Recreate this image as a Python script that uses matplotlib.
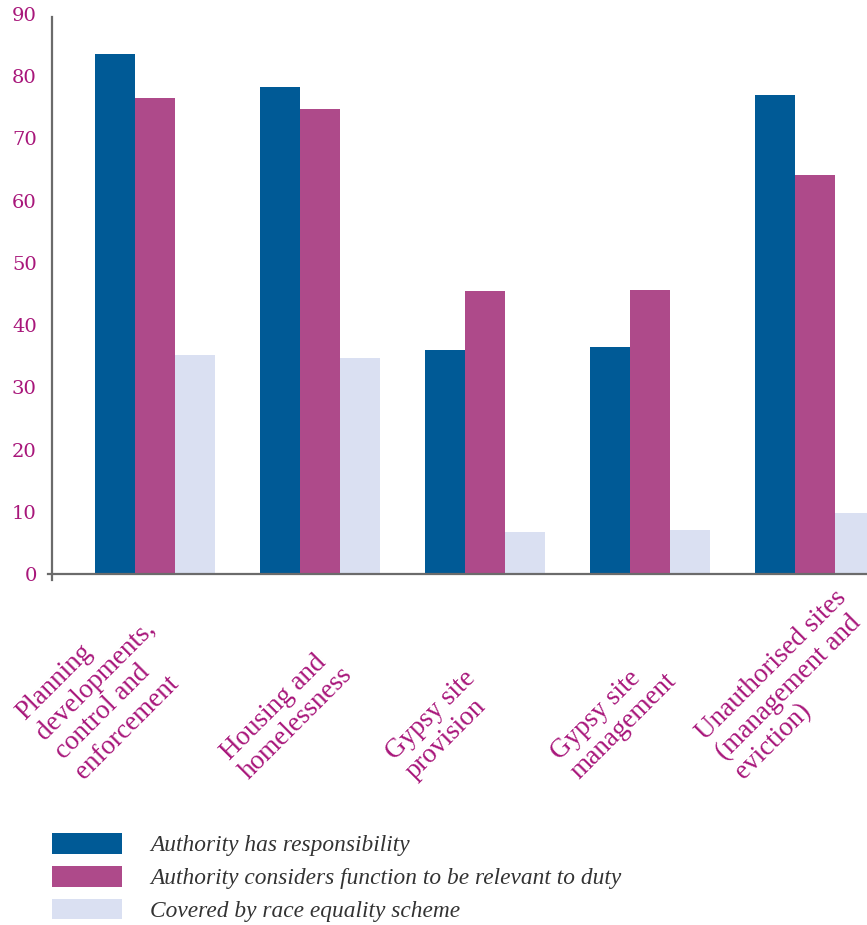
import matplotlib
matplotlib.use('Agg')
import matplotlib.pyplot as plt
import matplotlib.transforms as mtransforms
import numpy as np

# Functions and the share of authorities (%) in each category
categories = [
    'Planning\ndevelopments,\ncontrol and\nenforcement',
    'Housing and\nhomelessness',
    'Gypsy site\nprovision',
    'Gypsy site\nmanagement',
    'Unauthorised sites\n(management and\neviction)',
]
has_responsibility = [83.6, 78.3, 36.0, 36.5, 77.0]
considers_relevant = [76.5, 74.8, 45.5, 45.7, 64.1]
race_equality_scheme = [35.2, 34.7, 6.8, 7.1, 9.8]

series_labels = [
    'Authority has responsibility',
    'Authority considers function to be relevant to duty',
    'Covered by race equality scheme',
]
y_ticks = list(range(0, 91, 10))

BLUE = '#005a96'
MAGENTA = '#ae4a8a'
PALE = '#dae0f2'
TEXT = '#a8167a'
AXIS = '#6b6b6b'

fig = plt.figure(figsize=(8.67, 9.25), dpi=100)
ax = fig.add_axes([52 / 867, 351 / 925, 815 / 867, 560 / 925])

x = np.arange(len(categories))
w = 40 / 165

bars = []
for k, (vals, col) in enumerate([(has_responsibility, BLUE),
                                  (considers_relevant, MAGENTA),
                                  (race_equality_scheme, PALE)]):
    b = ax.bar(x + (k - 1) * w, vals, w, color=col, linewidth=0, zorder=2)
    bars.append(b)

ax.set_xlim((52 - 155) / 165, (867 - 155) / 165)
ax.set_ylim(0, 90)

for side in ('top', 'right'):
    ax.spines[side].set_visible(False)
for side in ('left', 'bottom'):
    ax.spines[side].set_color(AXIS)
    ax.spines[side].set_linewidth(1.6)
ax.spines['bottom'].set_bounds((48 - 155) / 165, (867 - 155) / 165)
ax.spines['left'].set_bounds(-0.9, 89.5)

ax.set_xticks([])
ax.set_yticks(y_ticks)
ax.set_yticklabels([str(t) for t in y_ticks], family='DejaVu Serif',
                   fontsize=14, color=TEXT)
ax.tick_params(axis='y', length=0, pad=11)

# rotated category labels: one text per line, stacked along the 45° normal,
# anchored at the baseline start of the last line
trans = mtransforms.blended_transform_factory(ax.transData, ax.transAxes)
line_gap = 20.0  # points between baselines
step = line_gap * np.sqrt(0.5)
for xi, lab in zip(x, categories):
    lines = lab.split('\n')
    n = len(lines)
    for j, line in enumerate(lines):
        k = n - 1 - j
        tr = mtransforms.offset_copy(trans, fig=fig, x=-k * step, y=k * step,
                                     units='points')
        ax.text(xi - 0.43, -0.368, line, transform=tr, rotation=45,
                rotation_mode='anchor', ha='left', va='baseline',
                family='Liberation Serif', fontsize=19.5, color=TEXT)

fig.legend([b[0] for b in bars], series_labels, loc='upper left',
           bbox_to_anchor=(52 / 867, 1 - 833 / 925), frameon=False,
           borderpad=0, borderaxespad=0, handlelength=3.0, handleheight=1.0,
           labelspacing=0.4, handletextpad=1.2,
           prop={'family': 'Liberation Serif', 'style': 'italic', 'size': 16.8},
           labelcolor='#333333')

fig.savefig('out.png', dpi=100)
